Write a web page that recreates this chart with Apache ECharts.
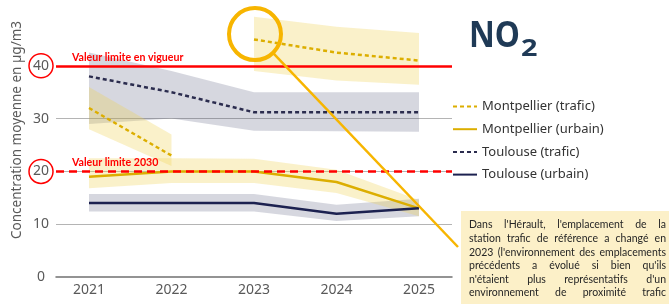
<!DOCTYPE html>
<html>
<head>
<meta charset="utf-8">
<script src="https://cdn.jsdelivr.net/npm/echarts@6/dist/echarts.min.js"></script>
<style>
html,body{margin:0;padding:0;background:#fff}
#chart{width:669px;height:304px}
</style>
</head>
<body>
<div id="chart"></div>
<script>
// données
var years = [2021, 2022, 2023, 2024, 2025];
var yTicks = [0, 10, 20, 30, 40];
var limitValues = [40, 20];

var mtpTrafic = [32, 23, 45, 42.5, 41];
var mtpTraficLow = [28, 21, 39, 37.2, 36.4];
var mtpTraficHigh = [36, 27, 49.3, 47.4, 46.2];

var mtpUrbain = [19, 20, 20, 18, 13];
var mtpUrbainLow = [16.8, 17.8, 17.8, 15.9, 11.5];
var mtpUrbainHigh = [22.5, 22.5, 22.4, 20.3, 14.6];

var tlsTrafic = [38, 35, 31.2, 31.2, 31.2];
var tlsTraficLow = [29, 30, 27.7, 27.6, 27.5];
var tlsTraficHigh = [42.5, 39, 35, 35, 35];

var tlsUrbain = [14, 14, 14, 12, 13];
var tlsUrbainLow = [12.4, 12.4, 12.4, 10.6, 11.5];
var tlsUrbainHigh = [15.7, 15.7, 15.7, 13.7, 14.8];

var noteLines = [
    "Dans l'Hérault, l'emplacement de la",
    "station trafic de référence a changé en",
    "2023 (l'environnement des emplacements",
    "précédents a évolué si bien qu'ils",
    "n'étaient plus représentatifs d'un",
    "environnement de proximité trafic"
];

var YELLOW = '#dcae00', NAVY = '#1c2150', NAVY2 = '#2b2c4e', RED = '#ff0000', ORANGE = '#f7b500';
var FONT = '"Noto Sans", "Open Sans", sans-serif';
var FONT2 = 'Lato, "Noto Sans", sans-serif';

function pairs(vals, from, to) {
    var out = [];
    for (var i = from; i < to; i++) out.push([years[i], vals[i]]);
    return out;
}

// bande min/max dessinée en un seul polygone
function band(low, high, from, to, color) {
    return {
        type: 'custom', silent: true, z: 1,
        data: [[years[from], low[from]]],
        renderItem: function (params, api) {
            var pts = [], i;
            for (i = from; i < to; i++) pts.push(api.coord([years[i], high[i]]));
            for (i = to - 1; i >= from; i--) pts.push(api.coord([years[i], low[i]]));
            return {type: 'polygon', shape: {points: pts}, style: {fill: color}};
        }
    };
}

var yellowBand = 'rgba(240,208,80,0.30)';
var grayBand = 'rgba(70,75,110,0.22)';

var series = [
    band(tlsTraficLow, tlsTraficHigh, 0, 5, grayBand),
    band(tlsUrbainLow, tlsUrbainHigh, 0, 5, grayBand),
    band(mtpTraficLow, mtpTraficHigh, 0, 2, yellowBand),
    band(mtpTraficLow, mtpTraficHigh, 2, 5, yellowBand),
    band(mtpUrbainLow, mtpUrbainHigh, 0, 5, yellowBand)
];

series.push({
    name: 'Montpellier (trafic)', type: 'line', data: pairs(mtpTrafic, 0, 2), symbol: 'none', z: 3,
    lineStyle: {color: YELLOW, width: 2.5, type: [4, 3]}, itemStyle: {color: YELLOW},
    markLine: {
        silent: true, symbol: 'none',
        data: [
            {yAxis: limitValues[0], lineStyle: {color: RED, width: 2.5, type: 'solid'},
             label: {formatter: 'Valeur limite en vigueur'}},
            {yAxis: limitValues[1], lineStyle: {color: RED, width: 2.5, type: [8, 5]},
             label: {formatter: 'Valeur limite 2030'}}
        ],
        label: {position: 'insideStartTop', distance: [16, 3], color: RED, fontWeight: 'bold',
                fontSize: 10.6, fontFamily: FONT2}
    }
});
series.push({
    name: 'Montpellier (trafic)', type: 'line', data: pairs(mtpTrafic, 2, 5), symbol: 'none', z: 3,
    lineStyle: {color: YELLOW, width: 2.5, type: [4, 3]}, itemStyle: {color: YELLOW}
});
series.push({
    name: 'Montpellier (urbain)', type: 'line', data: pairs(mtpUrbain, 0, 5), symbol: 'none', z: 3,
    lineStyle: {color: YELLOW, width: 2.5}, itemStyle: {color: YELLOW}
});
series.push({
    name: 'Toulouse (trafic)', type: 'line', data: pairs(tlsTrafic, 0, 5), symbol: 'none', z: 3,
    lineStyle: {color: NAVY2, width: 2.5, type: [4, 3]}, itemStyle: {color: NAVY2}
});
series.push({
    name: 'Toulouse (urbain)', type: 'line', data: pairs(tlsUrbain, 0, 5), symbol: 'none', z: 3,
    lineStyle: {color: NAVY, width: 2.5}, itemStyle: {color: NAVY}
});

var chart = echarts.init(document.getElementById('chart'), null, {renderer: 'canvas'});
chart.setOption({
    animation: false,
    textStyle: {fontFamily: FONT},
    legend: {
        data: ['Montpellier (trafic)', 'Montpellier (urbain)', 'Toulouse (trafic)', 'Toulouse (urbain)'],
        orient: 'vertical', left: 452, top: 100, padding: 0, itemWidth: 24, itemHeight: 14, itemGap: 9.7,
        itemStyle: {opacity: 0}, lineStyle: {width: 2},
        textStyle: {fontSize: 13, color: '#333', fontFamily: FONT}
    },
    grid: {left: 56, right: 217, top: 13, bottom: 27, containLabel: false},
    xAxis: {
        type: 'value', min: 2020.6, max: 2025.4,
        axisLine: {show: true, lineStyle: {color: '#707070', width: 1.5}},
        axisTick: {show: false},
        splitLine: {show: false},
        axisLabel: {customValues: years, margin: 6, fontSize: 14, color: '#595959', fontFamily: FONT,
                    formatter: function (v) { return String(v); }}
    },
    yAxis: {
        type: 'value', min: 0, max: 50, interval: 10,
        axisLine: {show: false}, axisTick: {show: false},
        splitLine: {show: true, showMinLine: false, showMaxLine: false, lineStyle: {color: '#b4b4b4', width: 1}},
        axisLabel: {
            showMaxLabel: false, margin: 3,
            formatter: function (v) {
                return limitValues.indexOf(v) >= 0 ? '{c|' + v + '}' : '{n|' + v + '}';
            },
            rich: {
                n: {width: 24, align: 'center', fontSize: 14, color: '#595959', fontFamily: FONT},
                c: {width: 22, height: 22, lineHeight: 22, padding: 1, align: 'center', fontSize: 14,
                    color: '#595959', fontFamily: FONT, borderColor: RED, borderWidth: 1.5, borderRadius: 13}
            }
        }
    },
    series: series
});

// annotations : titre, cercle sur 2023, trait vers l'encadré, texte justifié
var ctx = document.createElement('canvas').getContext('2d');
var titleFont = 'bold 36px ' + FONT;
ctx.font = titleFont;
var titleScale = 51 / ctx.measureText('NO').width;
var noteFont = '10.5px ' + FONT2;
ctx.font = noteFont;
var boxX = 461, boxY = 211, textX = 469, textR = 666, lineH = 13.6;
var graphics = [];
graphics.push({type: 'text', x: 469, y: 37, scaleX: titleScale, z: 10,
    style: {text: 'NO', font: titleFont, fill: '#1f3a56', verticalAlign: 'middle'}});
graphics.push({type: 'text', x: 521, y: 49.5, scaleX: 1.2, z: 10,
    style: {text: '2', font: 'bold 24px ' + FONT, fill: '#1f3a56', verticalAlign: 'middle'}});
graphics.push({type: 'rect', shape: {x: boxX, y: boxY, width: 669 - boxX, height: 304 - boxY},
    style: {fill: '#fcf0c8'}, z: 10});
noteLines.forEach(function (line, k) {
    var words = line.split(' ');
    var widths = words.map(function (w) { return ctx.measureText(w).width; });
    var total = widths.reduce(function (a, b) { return a + b; }, 0);
    var gap = words.length > 1 ? (textR - textX - total) / (words.length - 1) : 0;
    var x = textX;
    words.forEach(function (w, j) {
        graphics.push({type: 'text', x: x, y: boxY + 14 + k * lineH, z: 11,
            style: {text: w, font: noteFont, fill: '#262626', verticalAlign: 'middle'}});
        x += widths[j] + gap;
    });
});
var c = chart.convertToPixel({gridIndex: 0}, [2023, 46]);
var r = 26;
var ang = Math.atan2(247 - c[1], 458 - c[0]);
graphics.push({type: 'circle', shape: {cx: c[0] + 1, cy: c[1], r: r},
    style: {fill: 'none', stroke: ORANGE, lineWidth: 4}, z: 12});
graphics.push({type: 'line', shape: {x1: c[0] + 1 + r * Math.cos(ang), y1: c[1] + r * Math.sin(ang), x2: 458, y2: 247},
    style: {stroke: ORANGE, lineWidth: 2.5}, z: 12});
graphics.push({type: 'text', x: 17, y: 130, rotation: Math.PI / 2, z: 5,
    style: {text: 'Concentration moyenne en µg/m3', font: '13.5px ' + FONT, fill: '#595959',
            align: 'center', verticalAlign: 'middle'}});
chart.setOption({graphic: graphics});
</script>
</body>
</html>
